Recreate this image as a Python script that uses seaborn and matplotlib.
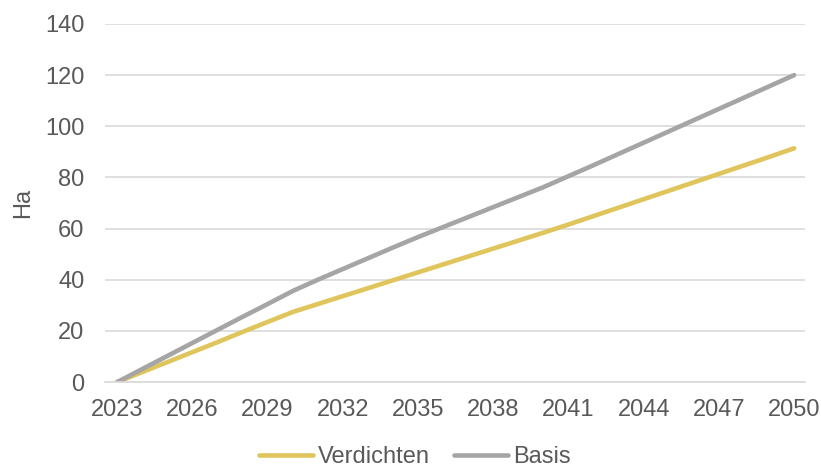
import numpy as np
import pandas as pd
import matplotlib
matplotlib.use('Agg')
import matplotlib.pyplot as plt
import seaborn as sns
from matplotlib.lines import Line2D

# Daten
jahre = list(range(2023, 2051))
verdichten = [0, 3.9, 7.8, 11.7, 15.6, 19.6, 23.5, 27.4, 30.5, 33.6, 36.7, 39.8, 42.9,
              46.0, 49.1, 52.2, 55.3, 58.4, 61.6, 64.9, 68.2, 71.5, 74.8, 78.1, 81.4,
              84.7, 88.0, 91.4]
basis = [0, 5.1, 10.2, 15.3, 20.4, 25.5, 30.5, 35.6, 40.0, 44.2, 48.4, 52.6, 56.7,
         60.6, 64.5, 68.4, 72.3, 76.2, 80.5, 84.8, 89.2, 93.6, 98.0, 102.4, 106.8,
         111.2, 115.6, 120.0]
tick_jahre = list(range(2023, 2051, 3))

df = pd.DataFrame({'Jahr': jahre * 2,
                   'Ha': verdichten + basis,
                   'Szenario': ['Verdichten'] * len(jahre) + ['Basis'] * len(jahre)})

sns.set_theme(style='white')
plt.rcParams['font.family'] = ['Liberation Sans', 'DejaVu Sans']
text_col = '#595959'
farben = {'Verdichten': '#DFC55B', 'Basis': '#A5A5A5'}

fig, ax = plt.subplots(figsize=(8.21, 4.70), dpi=100)
fig.subplots_adjust(left=0.128, right=0.981, top=0.949, bottom=0.187)

sns.lineplot(data=df, x='Jahr', y='Ha', hue='Szenario', palette=farben,
             linewidth=3.3, ax=ax, legend=False,
             solid_capstyle='round', solid_joinstyle='round')

ax.set_xlim(2022.52, 2050.45)
ax.set_ylim(0, 140)
ax.set_yticks(range(0, 141, 20))
ax.set_xticks(tick_jahre)
ax.grid(axis='y', color='#D9D9D9', linewidth=1.2)
ax.set_axisbelow(True)
for s in ['top', 'right', 'left']:
    ax.spines[s].set_visible(False)
ax.spines['bottom'].set_color('#D9D9D9')
ax.spines['bottom'].set_linewidth(1.2)
ax.tick_params(axis='both', length=0, labelsize=17, colors=text_col)
ax.tick_params(axis='x', pad=12)
ax.tick_params(axis='y', pad=15)
ax.set_xlabel('')
ax.set_ylabel('Ha', fontsize=17, color=text_col, labelpad=8)

handles = [Line2D([], [], color=farben['Verdichten'], lw=3.3, solid_capstyle='round'),
           Line2D([], [], color=farben['Basis'], lw=3.3, solid_capstyle='round')]
fig.legend(handles, ['Verdichten', 'Basis'], loc='lower center', ncol=2,
           bbox_to_anchor=(0.505, -0.042), frameon=False, fontsize=17,
           labelcolor=text_col, handlelength=2.3, handletextpad=0.2,
           columnspacing=1.0)

fig.savefig('out.png', dpi=100)
